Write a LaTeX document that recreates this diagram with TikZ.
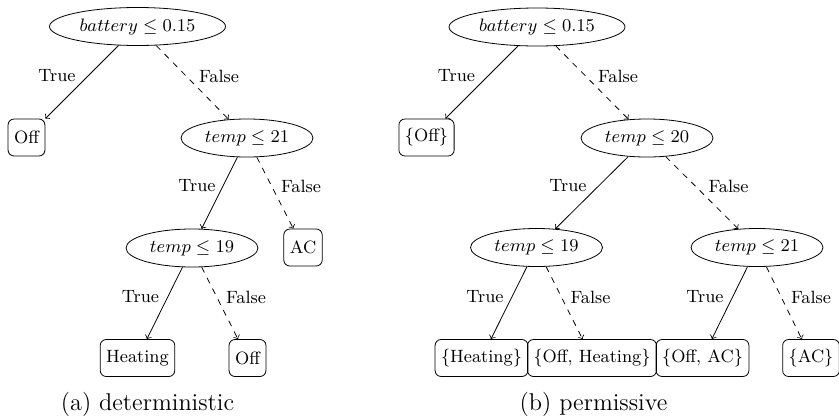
\documentclass[tikz,border=0pt]{standalone}
\usetikzlibrary{shapes.geometric}
\begin{document}
\begin{tikzpicture}[x=0.5pt,y=-0.5pt,
  every node/.style={font=\fontsize{8.9}{10.7}\selectfont},
  cond/.style={ellipse,draw,inner sep=0pt,minimum height=19pt},
  wide/.style={minimum width=88pt},
  narrow/.style={minimum width=66pt},
  leaf/.style={draw,rounded corners=3pt,inner xsep=3pt,inner ysep=0pt,minimum height=18.5pt},
  yes/.style={->},
  no/.style={->,dashed},
  lbl/.style={inner sep=0pt},
  captxt/.style={inner sep=0pt,font=\fontsize{12.15}{14.6}\selectfont}]
\useasboundingbox (0,0) rectangle (839,418);
% (a) deterministic
\node[cond,wide] (a0) at (137.5,26.5) {$battery \leq 0.15$};
\node[leaf] (aoff) at (26.5,137.5) {Off};
\node[cond,narrow] (a1) at (247,138) {$temp \leq 21$};
\node[cond,narrow] (a2) at (192,248) {$temp \leq 19$};
\node[leaf] (aac) at (303,247.5) {AC};
\node[leaf] (aheat) at (137.5,358) {Heating};
\node[leaf] (aoff2) at (247.5,358) {Off};
\draw[yes] (a0) -- (aoff);
\draw[no] (a0) -- (a1);
\draw[yes] (a1) -- (a2);
\draw[no] (a1) -- (aac);
\draw[yes] (a2) -- (aheat);
\draw[no] (a2) -- (aoff2);
\node[lbl] (la1) at (57,76) {True};
\node[lbl] (la2) at (219,76) {False};
\node[lbl] (la3) at (197,186) {True};
\node[lbl] (la4) at (301,186) {False};
\node[lbl] (la5) at (140.5,297) {True};
\node[lbl] (la6) at (246,297) {False};
\node[captxt] (capa) at (147.5,404) {(a) deterministic};
% (b) permissive
\node[cond,wide] (b0) at (537,27) {$battery \leq 0.15$};
\node[leaf] (boff) at (426.5,137.5) {\{Off\}};
\node[cond,narrow] (b1) at (647,138) {$temp \leq 20$};
\node[cond,narrow] (b2) at (536.5,247.5) {$temp \leq 19$};
\node[cond,narrow] (b3) at (757,247.5) {$temp \leq 21$};
\node[leaf] (bheat) at (481.5,358) {\{Heating\}};
\node[leaf] (boffheat) at (592,358) {\{Off, Heating\}};
\node[leaf] (boffac) at (702.5,358) {\{Off, AC\}};
\node[leaf] (bac) at (811,358) {\{AC\}};
\draw[yes] (b0) -- (boff);
\draw[no] (b0) -- (b1);
\draw[yes] (b1) -- (b2);
\draw[no] (b1) -- (b3);
\draw[yes] (b2) -- (bheat);
\draw[no] (b2) -- (boffheat);
\draw[yes] (b3) -- (boffac);
\draw[no] (b3) -- (bac);
\node[lbl] (lb1) at (456.5,76) {True};
\node[lbl] (lb2) at (618,76) {False};
\node[lbl] (lb3) at (568,186) {True};
\node[lbl] (lb4) at (728.5,186) {False};
\node[lbl] (lb5) at (485,297) {True};
\node[lbl] (lb6) at (590.5,297) {False};
\node[lbl] (lb7) at (705,297) {True};
\node[lbl] (lb8) at (811,297) {False};
\node[captxt] (capb) at (593.5,404) {(b) permissive};
\end{tikzpicture}
\end{document}
